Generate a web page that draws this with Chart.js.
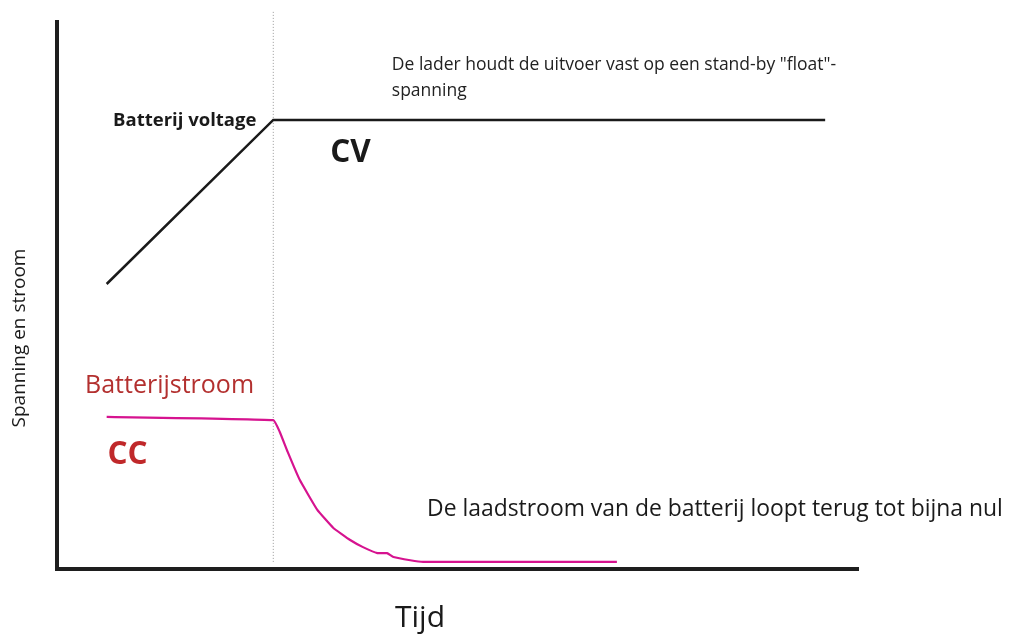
<!DOCTYPE html>
<html lang="nl">
<head>
<meta charset="utf-8">
<title>Laadcurve CC / CV</title>
<script src="https://cdn.jsdelivr.net/npm/chart.js@4.4.1/dist/chart.umd.min.js"></script>
<style>
  html, body { margin: 0; padding: 0; background: #fff; }
  #wrap { width: 1009px; height: 635px; }
</style>
</head>
<body>
<div id="wrap"><canvas id="chart" width="1009" height="635"></canvas></div>
<script>
// --- Data (time 0..100, level 0..100) ---
const voltageX = [6.2, 27.0, 95.9];
const voltageY = [52.1, 82.1, 82.1];

const currentX = [6.2, 27.0, 27.8, 28.8, 30.3, 32.5, 34.5, 36.6, 38.2, 40.0, 41.2, 42.0, 44.1, 45.7, 69.9];
const currentY = [27.8, 27.2, 25.1, 21.4, 16.3, 10.8, 7.5, 5.3, 4.0, 2.9, 2.9, 2.2, 1.6, 1.3, 1.3];

// switch-over from CC to CV
const switchX = [27.0, 27.0];
const switchY = [1.3, 102.2];

const xTitle = 'Tijd';
const yTitle = 'Spanning en stroom';

// text labels placed in data units
const notes = [
  { text: 'Batterij voltage', x: 7.0, y: 81.0, font: 'bold 18.5px "Open Sans"', color: '#1a1a1a' },
  { text: 'CV', x: 34.1, y: 74.4, font: 'bold 31.5px "Open Sans"', color: '#1a1a1a' },
  { text: 'De lader houdt de uitvoer vast op een stand-by "float"-', x: 41.8, y: 91.2, font: '17.5px "Open Sans"', color: '#222' },
  { text: 'spanning', x: 41.8, y: 86.5, font: '17.5px "Open Sans"', color: '#222' },
  { text: 'Batterijstroom', x: 3.5, y: 32.2, font: '25px "Open Sans"', color: '#b3302f' },
  { text: 'CC', x: 6.3, y: 19.2, font: 'bold 31.5px "Open Sans"', color: '#c0282a' },
  { text: 'De laadstroom van de batterij loopt terug tot bijna nul', x: 46.2, y: 9.6, font: '22.9px "Open Sans"', color: '#1a1a1a' }
];

const toPoints = (xs, ys) => xs.map((x, i) => ({ x: x, y: ys[i] }));

// draws the free text and the axis titles
const textPlugin = {
  id: 'notes',
  afterDatasetsDraw(chart) {
    const { ctx, scales, chartArea } = chart;
    ctx.save();
    ctx.textBaseline = 'alphabetic';
    ctx.textAlign = 'left';
    notes.forEach(n => {
      ctx.font = n.font;
      ctx.fillStyle = n.color;
      ctx.fillText(n.text, scales.x.getPixelForValue(n.x), scales.y.getPixelForValue(n.y));
    });

    // x title
    ctx.font = '30px "Open Sans"';
    ctx.fillStyle = '#1a1a1a';
    ctx.fillText(xTitle, chartArea.left + 338, chartArea.bottom + 58);

    // y title
    ctx.translate(chartArea.left - 32, chartArea.top + 316);
    ctx.rotate(-Math.PI / 2);
    ctx.textAlign = 'center';
    ctx.font = '19px "Open Sans"';
    ctx.fillText(yTitle, 0, 0);
    ctx.restore();
  }
};

document.addEventListener('DOMContentLoaded', () => {
  const ctx = document.getElementById('chart').getContext('2d');
  new Chart(ctx, {
    type: 'line',
    data: {
      datasets: [
        {
          label: 'Batterij voltage',
          data: toPoints(voltageX, voltageY),
          borderColor: '#1a1a1a',
          borderWidth: 2.5,
          pointRadius: 0,
          tension: 0
        },
        {
          label: 'Batterijstroom',
          data: toPoints(currentX, currentY),
          borderColor: '#d6138f',
          borderWidth: 2.2,
          pointRadius: 0,
          tension: 0.1
        },
        {
          label: 'Omschakeling',
          data: toPoints(switchX, switchY),
          borderColor: '#999',
          borderWidth: 1,
          borderDash: [1, 2],
          pointRadius: 0,
          clip: false
        }
      ]
    },
    options: {
      responsive: false,
      animation: false,
      layout: { padding: { left: 57, right: 151, top: 22, bottom: 66 } },
      scales: {
        x: {
          type: 'linear',
          min: 0,
          max: 100,
          grid: { display: false, drawTicks: false },
          ticks: { display: false },
          border: { display: true, width: 4, color: '#1e1e1e' }
        },
        y: {
          min: 0,
          max: 100,
          grid: { display: false, drawTicks: false },
          ticks: { display: false },
          border: { display: true, width: 4, color: '#1e1e1e' }
        }
      },
      plugins: {
        legend: { display: false },
        tooltip: { enabled: false }
      }
    },
    plugins: [textPlugin]
  });
});
</script>
</body>
</html>
